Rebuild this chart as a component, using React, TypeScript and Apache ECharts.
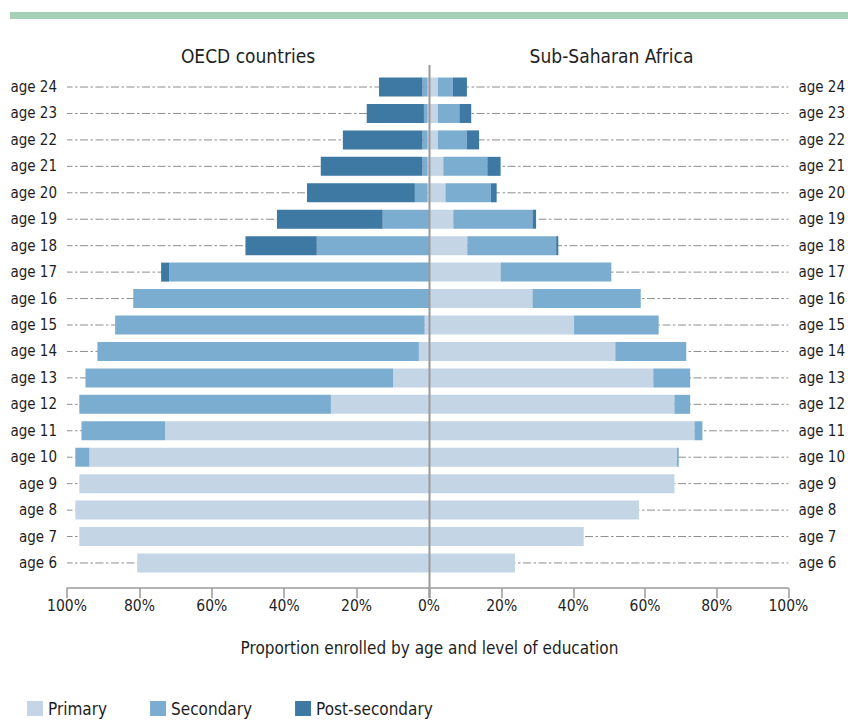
import React, { useEffect, useRef } from 'react';
import * as echarts from 'echarts';

const ages = ['age 24', 'age 23', 'age 22', 'age 21', 'age 20', 'age 19', 'age 18', 'age 17', 'age 16', 'age 15', 'age 14', 'age 13', 'age 12', 'age 11', 'age 10', 'age 9', 'age 8', 'age 7', 'age 6'];

const oecdPrimary = [0.4, 0.4, 0.4, 0.4, 0.4, 0, 0, 0, 0, 1.2, 2.8, 9.9, 27.1, 72.9, 93.8, 96.6, 97.7, 96.6, 80.6];
const oecdSecondary = [1.4, 1.0, 1.4, 1.4, 3.5, 12.8, 31.0, 71.8, 81.7, 85.5, 88.8, 85.0, 69.5, 23.1, 3.9, 0, 0, 0, 0];
const oecdPostSecondary = [12.0, 15.8, 22.0, 28.1, 29.8, 29.2, 19.7, 2.2, 0, 0, 0, 0, 0, 0, 0, 0, 0, 0, 0];

const ssaPrimary = [2.2, 2.2, 2.2, 3.7, 4.3, 6.5, 10.4, 19.7, 28.6, 40.2, 51.7, 62.3, 68.2, 73.8, 68.9, 68.2, 58.3, 42.9, 23.7];
const ssaSecondary = [4.2, 6.0, 8.1, 12.3, 12.7, 22.1, 24.8, 30.9, 30.2, 23.6, 19.8, 10.3, 4.4, 2.2, 0.5, 0, 0, 0, 0];
const ssaPostSecondary = [3.9, 3.3, 3.4, 3.7, 1.6, 1.0, 0.6, 0, 0, 0, 0, 0, 0, 0, 0, 0, 0, 0, 0];

const xTicks = [0, 20, 40, 60, 80, 100];
const panelTitles = ['OECD countries', 'Sub-Saharan Africa'];
const axisTitle = 'Proportion enrolled by age and level of education';
const levels = ['Primary', 'Secondary', 'Post-secondary'];

const COLORS = ['#c4d6e6', '#7badd1', '#3d79a3'];
const FONT = "'DejaVu Sans Condensed', 'Liberation Sans', Arial, sans-serif";
const TEXT = '#1e1e1e';
const GRAY = '#9a9a9a';

export default function App() {
  const ref = useRef<HTMLDivElement>(null);
  useEffect(() => {
    if (!ref.current) return;
    const chart = echarts.init(ref.current, null, { renderer: 'svg' });
    const L = 67;
    const CL = 429;
    const CR = 430;
    const R = 793;
    const TOP = 73.8;
    const H = 502.4;
    const AX_OFF = 12;

    const gridLines = (xi: number) => ({
      type: 'custom',
      name: 'guides',
      xAxisIndex: xi,
      yAxisIndex: xi,
      z: 0,
      silent: true,
      encode: { x: 0, y: 1 },
      data: ages.map((a, i) => [100, i]),
      renderItem: (params: any, api: any) => {
        const idx = api.value(1);
        const a = api.coord([0, idx]);
        const b = api.coord([100, idx]);
        return {
          type: 'line',
          shape: { x1: a[0], y1: a[1], x2: b[0], y2: b[1] },
          style: { stroke: '#8e8e8e', lineWidth: 1, lineDash: [8, 2.5, 2.5, 2.5] },
        };
      },
    });

    const barSeries = (name: string, data: number[], idx: number, stack: string, color: string) => ({
      type: 'bar',
      name,
      stack,
      xAxisIndex: idx,
      yAxisIndex: idx,
      data,
      barWidth: 19,
      z: 2,
      itemStyle: { color },
    });

    const xAxisBase = {
      type: 'value',
      min: 0,
      max: 100,
      interval: 20,
      position: 'bottom',
      offset: AX_OFF,
      axisLine: { show: true, lineStyle: { color: GRAY, width: 1.5 } },
      axisTick: { show: true, length: 10, lineStyle: { color: GRAY, width: 1.5 } },
      splitLine: { show: false },
    };

    chart.setOption({
      animation: false,
      textStyle: { fontFamily: FONT },
      grid: [
        { left: L, top: TOP, width: CL - L, height: H },
        { left: CR, top: TOP, width: R - CR, height: H },
      ],
      xAxis: [
        {
          ...xAxisBase,
          gridIndex: 0,
          inverse: true,
          axisLabel: { margin: 10, fontSize: 15.5, color: TEXT, fontFamily: FONT, formatter: (v: number) => v + '%' },
        },
        {
          ...xAxisBase,
          gridIndex: 1,
          axisLabel: { margin: 10, fontSize: 15.5, color: TEXT, fontFamily: FONT, formatter: (v: number) => (v === xTicks[0] ? '' : v + '%') },
        },
      ],
      yAxis: [
        {
          type: 'category',
          gridIndex: 0,
          data: ages,
          inverse: true,
          position: 'left',
          axisLine: { show: false },
          axisTick: { show: false },
          axisLabel: { margin: 10, fontSize: 15, color: TEXT, fontFamily: FONT },
        },
        {
          type: 'category',
          gridIndex: 1,
          data: ages,
          inverse: true,
          position: 'right',
          axisLine: { show: false },
          axisTick: { show: false },
          axisLabel: { margin: 10, fontSize: 15, color: TEXT, fontFamily: FONT },
        },
      ],
      legend: {
        data: levels,
        left: 27,
        top: 700,
        padding: 0,
        itemWidth: 16,
        itemHeight: 15,
        itemGap: 43,
        icon: 'rect',
        textStyle: { fontSize: 17, color: TEXT, fontFamily: FONT },
        selectedMode: false,
      },
      series: [
        gridLines(0),
        gridLines(1),
        barSeries(levels[0], oecdPrimary, 0, 'oecd', COLORS[0]),
        barSeries(levels[1], oecdSecondary, 0, 'oecd', COLORS[1]),
        barSeries(levels[2], oecdPostSecondary, 0, 'oecd', COLORS[2]),
        barSeries(levels[0], ssaPrimary, 1, 'ssa', COLORS[0]),
        barSeries(levels[1], ssaSecondary, 1, 'ssa', COLORS[1]),
        barSeries(levels[2], ssaPostSecondary, 1, 'ssa', COLORS[2]),
      ],
      graphic: [
        { type: 'rect', shape: { x: 10, y: 12, width: 838, height: 7 }, style: { fill: '#a7d0b9' }, silent: true },
        {
          type: 'line',
          shape: { x1: (CL + CR) / 2, y1: 65, x2: (CL + CR) / 2, y2: TOP + H + AX_OFF },
          style: { stroke: GRAY, lineWidth: 2 },
          z: 10,
          silent: true,
        },
        {
          type: 'text',
          x: (L + CL) / 2,
          y: 56,
          style: { text: panelTitles[0], fontSize: 19, fontFamily: FONT, fill: TEXT, textAlign: 'center', textVerticalAlign: 'middle', align: 'center', verticalAlign: 'middle' },
        },
        {
          type: 'text',
          x: (CR + R) / 2,
          y: 56,
          style: { text: panelTitles[1], fontSize: 19, fontFamily: FONT, fill: TEXT, textAlign: 'center', textVerticalAlign: 'middle', align: 'center', verticalAlign: 'middle' },
        },
        {
          type: 'text',
          x: (CL + CR) / 2,
          y: 648,
          style: { text: axisTitle, fontSize: 17, fontFamily: FONT, fill: TEXT, textAlign: 'center', textVerticalAlign: 'middle', align: 'center', verticalAlign: 'middle' },
        },
      ],
    });
    return () => chart.dispose();
  }, []);
  return <div ref={ref} style={{ position: 'absolute', left: 0, top: 0, width: 848, height: 720 }} />;
}
